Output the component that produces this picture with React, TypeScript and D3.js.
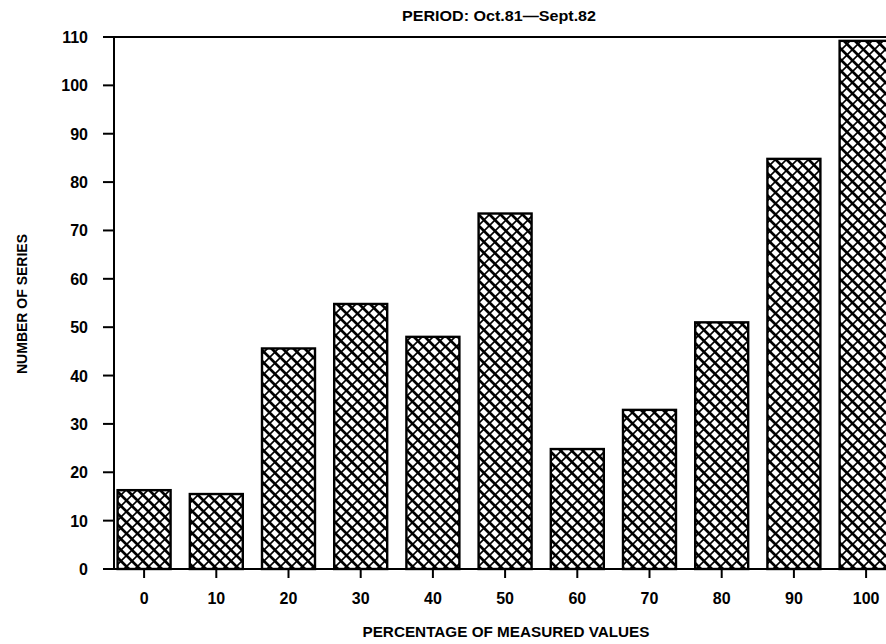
import React from "react";
import * as d3 from "d3";

const categories = ["0", "10", "20", "30", "40", "50", "60", "70", "80", "90", "100"];
const values = [16.3, 15.5, 45.6, 54.8, 48.0, 73.5, 24.8, 32.9, 51.0, 84.8, 109.2];
const yTicks = [0, 10, 20, 30, 40, 50, 60, 70, 80, 90, 100, 110];
const title = "PERIOD: Oct.81\u2014Sept.82";
const xTitle = "PERCENTAGE OF MEASURED VALUES";
const yTitle = "NUMBER OF SERIES";

const W = 886;
const H = 644;
const left = 114;
const top = 37;
const bottom = 569;
const xStart = 108;
const step = 72.2;

export default function App() {
  const x = d3
    .scaleBand<string>()
    .domain(categories)
    .range([xStart, xStart + step * categories.length])
    .paddingInner(0.266)
    .paddingOuter(0.133);
  const y = d3.scaleLinear().domain([0, 110]).range([bottom, top]);
  const font = "'Liberation Sans', Arial, sans-serif";

  return (
    <svg
      width={W}
      height={H}
      style={{ position: "absolute", left: 0, top: 0, display: "block", background: "#fff" }}
    >
      <defs>
        <pattern id="hatch" patternUnits="userSpaceOnUse" width={11} height={11}>
          <rect width={11} height={11} fill="#fff" />
          <path d="M0,0 L11,11 M-3,8 L3,14 M8,-3 L14,3" stroke="#000" strokeWidth={2.7} />
          <path d="M0,11 L11,0 M-3,3 L3,-3 M8,14 L14,8" stroke="#000" strokeWidth={1.6} />
        </pattern>
      </defs>
      <rect width={W} height={H} fill="#fff" />

      {categories.map((c, i) => (
        <rect
          key={c}
          x={x(c)}
          y={y(values[i])}
          width={x.bandwidth()}
          height={y(0) - y(values[i])}
          fill="url(#hatch)"
          stroke="#000"
          strokeWidth={2.4}
        />
      ))}

      <line x1={left} x2={left} y1={top} y2={bottom} stroke="#000" strokeWidth={2} />
      <line x1={103} x2={W} y1={top} y2={top} stroke="#000" strokeWidth={2} />
      <line x1={xStart} x2={W} y1={bottom} y2={bottom} stroke="#000" strokeWidth={2} />

      {yTicks.map((t) => (
        <g key={t}>
          <line x1={103} x2={left} y1={y(t)} y2={y(t)} stroke="#000" strokeWidth={2} />
          <text
            x={88}
            y={y(t) + 6}
            textAnchor="end"
            fontFamily={font}
            fontWeight="bold"
            fontSize={16}
          >
            {t}
          </text>
        </g>
      ))}

      {categories.map((c) => {
        const cx = (x(c) as number) + x.bandwidth() / 2;
        return (
          <g key={c}>
            <line x1={cx} x2={cx} y1={bottom} y2={578} stroke="#000" strokeWidth={2} />
            <text
              x={cx}
              y={604}
              textAnchor="middle"
              fontFamily={font}
              fontWeight="bold"
              fontSize={16}
            >
              {c}
            </text>
          </g>
        );
      })}

      <text
        x={499}
        y={21}
        textAnchor="middle"
        fontFamily={font}
        fontWeight="bold"
        fontSize={14}
        textLength={194}
        lengthAdjust="spacingAndGlyphs"
      >
        {title}
      </text>
      <text
        x={506}
        y={637}
        textAnchor="middle"
        fontFamily={font}
        fontWeight="bold"
        fontSize={14.5}
        textLength={287}
        lengthAdjust="spacingAndGlyphs"
      >
        {xTitle}
      </text>
      <text
        transform={`translate(27,${304}) rotate(-90)`}
        textAnchor="middle"
        fontFamily={font}
        fontWeight="bold"
        fontSize={14.5}
        textLength={140}
        lengthAdjust="spacingAndGlyphs"
      >
        {yTitle}
      </text>
    </svg>
  );
}
